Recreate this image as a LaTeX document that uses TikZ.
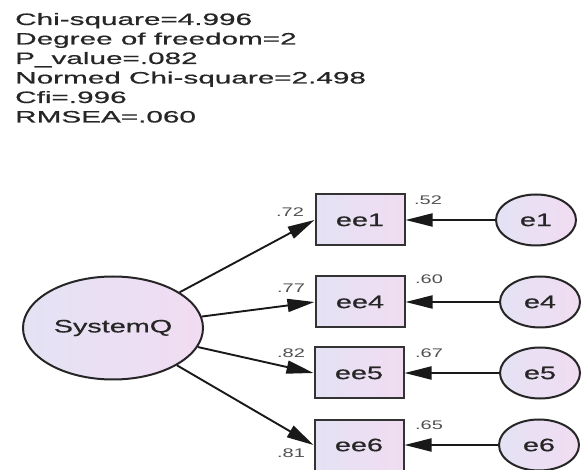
\documentclass[tikz,border=0pt]{standalone}
\usepackage{fontspec}
\setmainfont{Liberation Sans}
\newfontfamily\heavy{Liberation Sans}[FakeBold=0.5]
\usetikzlibrary{arrows.meta,shapes.geometric}
\definecolor{txt}{HTML}{262626}
\definecolor{lab}{HTML}{505050}
\definecolor{fillL}{HTML}{E4E2F4}
\definecolor{fillR}{HTML}{F1DCF2}
\newcommand{\sx}[2][1.6]{\scalebox{#1}[1]{#2}}
\begin{document}
\begin{tikzpicture}[x=1pt,y=-1pt,
  lat/.style={ellipse,draw=black!85,line width=2pt,left color=fillL,right color=fillR,inner sep=0pt,text=txt},
  obs/.style={rectangle,draw=black!80,line width=2pt,left color=fillL,right color=fillR,inner sep=0pt,minimum width=89pt,minimum height=51pt,text=txt},
  err/.style={ellipse,draw=black!85,line width=2pt,left color=fillL,right color=fillR,inner sep=0pt,minimum width=80pt,minimum height=51pt,text=txt},
  arr/.style={draw=black!90,line width=1.9pt,-{Triangle[length=27pt,width=13pt]}},
  lbl/.style={text=lab,inner sep=0pt,font=\fontsize{12.5}{14}\selectfont},
  hdr/.style={anchor=base west,inner sep=0pt,text=txt,font=\heavy\fontsize{16.5}{19}\selectfont},
  nm/.style={font=\heavy\fontsize{18}{20}\selectfont}
]
\fill[white] (0,0) rectangle (584,470);
\useasboundingbox (0,0) rectangle (584,470);

\node[hdr] (t1) at (15,25) {\sx[1.8]{Chi-square=4.996}};
\node[hdr] (t2) at (15,44.5) {\sx[1.8]{Degree of freedom=2}};
\node[hdr] (t3) at (15,64) {\sx[1.8]{P\_value=.082}};
\node[hdr] (t4) at (15,83.5) {\sx[1.8]{Normed Chi-square=2.498}};
\node[hdr] (t5) at (15,103) {\sx[1.8]{Cfi=.996}};
\node[hdr] (t6) at (15,122.5) {\sx[1.8]{RMSEA=.060}};

\node[lat,nm,minimum width=180pt,minimum height=103pt] (sq) at (113,328) {\sx{SystemQ}};

\node[obs,nm] (ee1) at (360,220) {\sx{ee1}};
\node[obs,nm] (ee4) at (360,302) {\sx{ee4}};
\node[obs,nm] (ee5) at (359,373) {\sx{ee5}};
\node[obs,nm] (ee6) at (359,445) {\sx{ee6}};

\node[err,nm] (e1) at (536,220) {\sx{e1}};
\node[err,nm] (e4) at (540,302) {\sx{e4}};
\node[err,nm] (e5) at (540,373) {\sx{e5}};
\node[err,nm] (e6) at (539,445) {\sx{e6}};

\draw[arr] (sq) -- (ee1.west);
\draw[arr] (sq) -- (ee4.west);
\draw[arr] (sq) -- (ee5.west);
\draw[arr] (sq) -- (ee6.west);

\draw[arr] (e1) -- (ee1.east);
\draw[arr] (e4) -- (ee4.east);
\draw[arr] (e5) -- (ee5.east);
\draw[arr] (e6) -- (ee6.east);

\node[lbl] (l1) at (290,212) {\sx{.72}};
\node[lbl] (l4) at (291,288) {\sx{.77}};
\node[lbl] (l5) at (291,353) {\sx{.82}};
\node[lbl] (l6) at (291,453) {\sx{.81}};

\node[lbl] (r1) at (428,200) {\sx{.52}};
\node[lbl] (r4) at (429,279) {\sx{.60}};
\node[lbl] (r5) at (429,353) {\sx{.67}};
\node[lbl] (r6) at (429,425) {\sx{.65}};
\end{tikzpicture}
\end{document}
